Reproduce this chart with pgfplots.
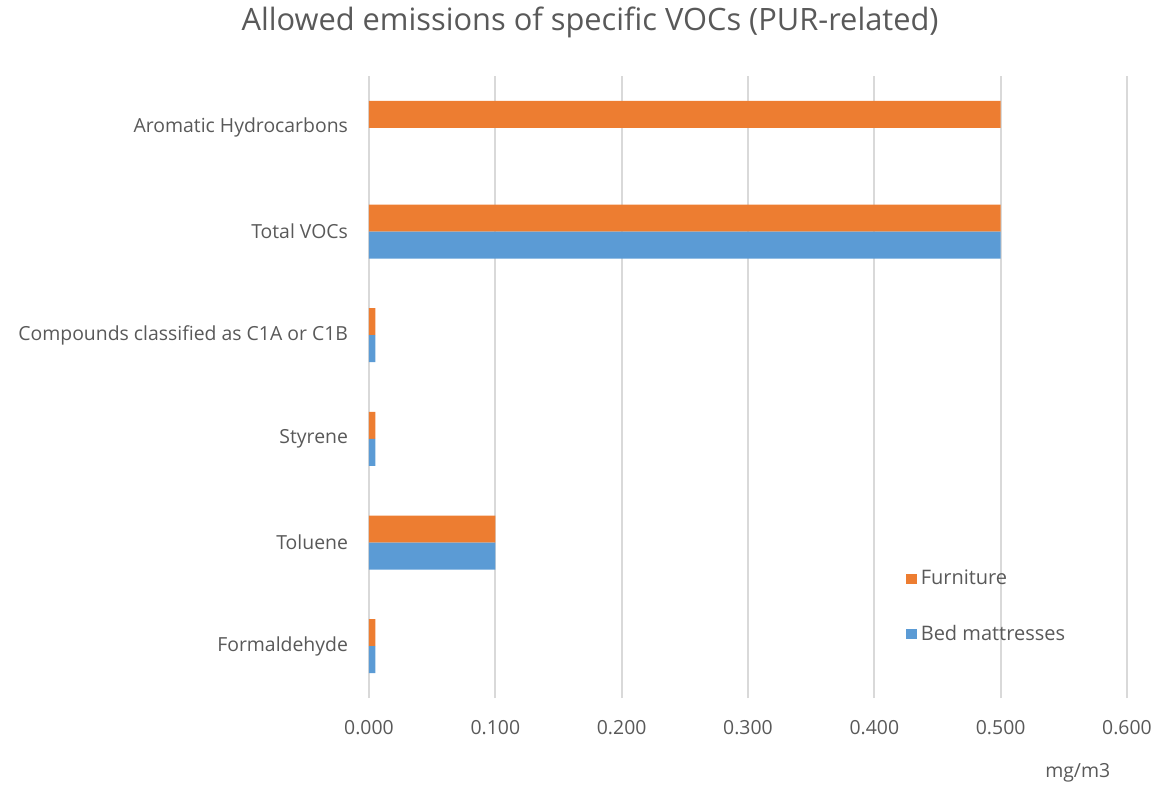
\documentclass[border=0pt]{standalone}
\usepackage{pgfplots}
\pgfplotsset{compat=1.18}
\usepackage{fontspec}
\setmainfont{Open Sans}
\definecolor{orng}{HTML}{ED7D31}
\definecolor{blu}{HTML}{5B9BD5}
\definecolor{txt}{HTML}{595959}
\definecolor{grd}{HTML}{D9D9D9}
\begin{document}
\begin{tikzpicture}
\useasboundingbox (-184.5pt,-44.5pt) rectangle (395pt,349pt);
\begin{axis}[
  at={(0,0)}, anchor=south west,
  scale only axis, width=379pt, height=311pt,
  xbar, bar width=13.5pt,
  xmin=0, xmax=0.6, ymin=-0.5, ymax=5.5,
  xtick={0,0.1,0.2,0.3,0.4,0.5,0.6},
  ytick={0,1,2,3,4,5},
  yticklabels={Formaldehyde,Toluene,Styrene,Compounds classified as C1A or C1B,Total VOCs,Aromatic Hydrocarbons},
  axis line style={draw=none},
  major tick length=0pt,
  xmajorgrids, major grid style={grd, line width=1pt},
  /pgf/number format/assume math mode=true,
  /pgf/number format/.cd, fixed, fixed zerofill, precision=3, /pgfplots/.cd,
  scaled x ticks=false,
  tick label style={font=\fontsize{9.7}{11}\selectfont, text=txt},
  xticklabel style={yshift=-7.5pt},
  yticklabel style={xshift=-7pt},
  xlabel={mg/m3},
  xlabel style={at={(axis description cs:0.935,0)}, anchor=center, yshift=-37.5pt, font=\fontsize{9.7}{11}\selectfont, text=txt},
  title={Allowed emissions of specific VOCs (PUR-related)},
  title style={at={(axis description cs:0.2916,1)}, anchor=center, yshift=21pt, font=\fontsize{15.4}{18}\selectfont, text=txt},
  legend style={at={(0.70,0.147)}, anchor=west, draw=none, fill=none,
    font=\fontsize{10}{12}\selectfont, text=txt, row sep=14.5pt},
  legend cell align=left,
  legend image code/.code={\fill[#1,draw=none] (0pt,-2.7pt) rectangle (5.4pt,2.7pt);},
]
\addplot[fill=orng, draw=none, bar shift=6.75pt] coordinates {
  (0.005,0) (0.1,1) (0.005,2) (0.005,3) (0.5,4) (0.5,5)};
\addlegendentry{Furniture}
\addplot[fill=blu, draw=none, bar shift=-6.75pt] coordinates {
  (0.005,0) (0.1,1) (0.005,2) (0.005,3) (0.5,4)};
\addlegendentry{Bed mattresses}
\end{axis}
\end{tikzpicture}
\end{document}
